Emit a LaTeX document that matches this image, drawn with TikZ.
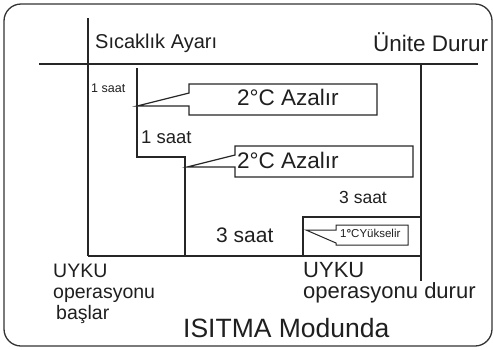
\documentclass[tikz,border=0pt]{standalone}
\usepackage{fontspec}
\setmainfont{Liberation Sans}
\newcommand\fsz[1]{\fontsize{#1}{#1}\selectfont}
\tikzset{
  thinline/.style={line width=1.2pt, draw=black!85},
  thickline/.style={line width=2.4pt, draw=black!85},
  frameline/.style={line width=1.3pt, draw=black!80, rounded corners=17pt},
  callout/.style={line width=1.2pt, draw=black!85, fill=white},
  lbl/.style={anchor=base west, inner sep=0pt, text=black!88},
}
\begin{document}
\begin{tikzpicture}[x=1pt,y=-1pt]
\useasboundingbox (0,0) rectangle (494,349);
% frame
\draw[frameline] (4,4) rectangle (492,346);
% axes coordinates
\coordinate (axtop) at (88,18);
\coordinate (axbot) at (88,256);
\coordinate (hl) at (39,64);
\coordinate (hr) at (478,64);
\coordinate (rtop) at (421,64);
\coordinate (rbot) at (421,281);
\coordinate (bl) at (88,256);
\coordinate (br) at (421,256);
\draw[thinline] (axtop) -- (axbot);
\draw[thinline] (hl) -- (hr);
\draw[thinline] (rtop) -- (rbot);
\draw[thinline] (bl) -- (br);
% step line
\coordinate (s0) at (137,68);
\coordinate (s1) at (137,157);
\coordinate (s2) at (185,157);
\coordinate (s3) at (185,256);
\coordinate (s4) at (303,256);
\coordinate (s5) at (421,256);
\coordinate (b1) at (303,217);
\coordinate (b2) at (421,217);
\draw[thickline, line join=miter] (s0) -- (s1) -- (s2) -- (s3) -- (s5);
\draw[thickline, line join=miter] (s4) -- (b1) -- (b2) -- (s5);
% callout 1
\draw[callout] (189,84) -| (377,115) -| (189,106) -- (137,106) -- (189,93) -- cycle;
% callout 2
\draw[callout] (235,146) -| (413,177) -| (235,167) -- (187,167) -- (235,155) -- cycle;
% callout 3
\draw[callout, line width=1pt] (336,225) -| (408,245) -| (336,243) -- (306,230) -- (336,230) -- cycle;
% texts
\node[lbl, font=\fsz{20}] (sicak) at (95,48) {Sıcaklık Ayarı};
\node[lbl, font=\fsz{22.5}] (unite) at (373,51) {Ünite Durur};
\node[lbl, font=\fsz{12.5}] (saat1a) at (91,92) {1 saat};
\node[lbl, font=\fsz{18.5}] (saat1b) at (141,143) {1 saat};
\node[lbl, font=\fsz{17.5}] (saat3a) at (339,203) {3 saat};
\node[lbl, font=\fsz{21}] (saat3b) at (216,242) {3 saat};
\node[lbl, font=\fsz{22.5}] (azal1) at (237,105) {2°C Azalır};
\node[lbl, font=\fsz{22.5}] (azal2) at (237,168) {2°C Azalır};
\node[lbl, font=\fsz{11.5}] (yuks) at (340,237) {1\textbf{°}CYükselir};
\node[lbl, font=\fsz{19.5}] (uyl1) at (53,277) {UYKU};
\node[lbl, font=\fsz{19.5}] (uyl2) at (53,298) {operasyonu};
\node[lbl, font=\fsz{19.5}] (uyl3) at (56,319) {başlar};
\node[lbl, font=\fsz{22}] (uyr1) at (303,277) {UYKU};
\node[lbl, font=\fsz{22}] (uyr2) at (303,298) {operasyonu durur};
\node[lbl, font=\fsz{26.5}] (mode) at (183,337) {ISITMA Modunda};
\end{tikzpicture}
\end{document}
